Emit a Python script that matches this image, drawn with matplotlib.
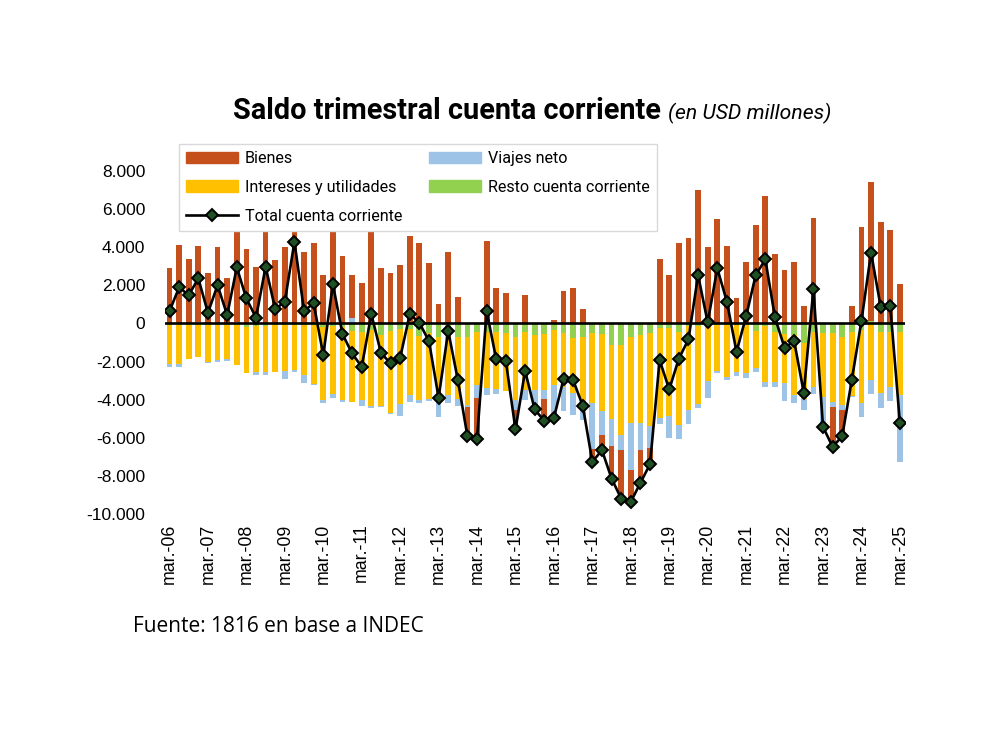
import numpy as np
import matplotlib
matplotlib.use("Agg")
import matplotlib.pyplot as plt
from matplotlib.ticker import FuncFormatter
from matplotlib.lines import Line2D
from matplotlib.patches import Patch

# ---------------- data (USD millones, trimestral, mar-06 .. mar-25) ----------------
months = ["mar.", "jun.", "sep.", "dic."]
years = list(range(6, 26))
quarters = [f"{m}-{y:02d}" for y in years for m in months][:77]

bienes = [2920, 4110, 3360, 3960, 2625, 3990, 2380, 5030, 3885, 2975, 5655, 3325,
          4025, 6860, 3760, 4235, 2540, 5950, 3535, 2280, 2100, 4935, 2890, 2625,
          3060, 4585, 4235, 3150, 1015, 3760, 1365, -1550, -2050, 4320, 1870, 1575,
          -1000, 1490, -60, -1150, 175, 1700, 1875, 750, -650, -790, -1700, -2540,
          -1700, -1715, -850, 3380, 2540, 4235, 4460, 7000, 3990, 5460, 4080, 1310,
          3240, 5160, 6685, 3640, 2800, 3240, 930, 5510, -200, -2065, -1365, 930,
          5075, 7290, 5300, 4900, 2065]
viajes = [-140, -140, -20, 100, -30, -100, -80, 100, -40, -120, -120, -30,
          -370, -120, -400, -30, -200, -200, -90, 260, -350, -100, -30, -30,
          -650, -350, -150, -120, -820, -400, -350, -100, -665, -350, -260, -50,
          -530, -490, -950, -440, -1850, -1300, -1190, -870, -2415, -1280, -1450, -790,
          -2415, -1400, -1140, -315, -1140, -735, -750, -230, -930, -140, -175, -230,
          -260, -175, -300, -275, -910, -440, -560, -385, -1400, -300, -260, -100,
          -770, -735, -790, -735, -3500]
intereses = [-2050, -2060, -1800, -1700, -1960, -1870, -1820, -2130, -2400, -2400, -2400, -2450,
             -2430, -2350, -2600, -3100, -3800, -3550, -3850, -3700, -3550, -3980, -3750, -4300,
             -3900, -3450, -3350, -3480, -3400, -3300, -3270, -3600, -2800, -2950, -3000, -3000,
             -3325, -3060, -2890, -2940, -2900, -2800, -2850, -3500, -3710, -4025, -3850, -4725,
             -4550, -4640, -4900, -4700, -4600, -4900, -4400, -4100, -2870, -2380, -2700, -2440,
             -2520, -1960, -2900, -2600, -2590, -3150, -2940, -2890, -3360, -3620, -3590, -3345,
             -3815, -2975, -3240, -2890, -3325]
resto = [-80, -80, -60, -50, -60, -60, -60, -60, -180, -160, -160, -90,
         -90, -100, -100, -100, -200, -150, -170, -420, -450, -370, -600, -400,
         -310, -300, -650, -480, -700, -450, -700, -700, -440, -430, -450, -520,
         -700, -450, -610, -560, -350, -520, -790, -700, -490, -560, -1140, -1140,
         -700, -610, -500, -260, -260, -440, -150, -130, -130, -100, -100, -100,
         -100, -400, -150, -450, -560, -610, -1050, -440, -490, -490, -700, -440,
         -350, 150, -430, -430, -430]
total = [650, 1890, 1490, 2360, 560, 2010, 440, 2940, 1310, 300, 2975, 750,
         1140, 4290, 665, 1050, -1660, 2065, -560, -1575, -2275, 490, -1540, -2100,
         -1800, 490, 35, -930, -3900, -390, -2955, -5915, -6040, 650, -1890, -1980,
         -5565, -2485, -4515, -5110, -4950, -2920, -2975, -4320, -7260, -6650, -8140, -9190,
         -9360, -8365, -7385, -1925, -3465, -1840, -840, 2540, 50, 2890, 1140, -1490,
         385, 2540, 3360, 315, -1280, -930, -3640, 1800, -5425, -6475, -5915, -2955,
         140, 3710, 875, 910, -5215]

c_bienes = "#C5501B"
c_viajes = "#9DC3E6"
c_inter = "#FFC000"
c_resto = "#92D050"
c_mark = "#1F4F22"

# ---------------- figure ----------------
fig = plt.figure(figsize=(9.92, 7.44), dpi=100)
ax = fig.add_axes([164.7 / 992, 1 - 514 / 744, 740 / 992, 343 / 744])

x = np.arange(len(quarters))
pos_base = np.zeros(len(x))
neg_base = np.zeros(len(x))
for vals, col in [(resto, c_resto), (intereses, c_inter), (viajes, c_viajes), (bienes, c_bienes)]:
    v = np.array(vals, dtype=float)
    bottom = np.where(v >= 0, pos_base, neg_base)
    ax.bar(x, v, bottom=bottom, width=0.6, color=col, zorder=2, linewidth=0)
    pos_base = pos_base + np.where(v >= 0, v, 0)
    neg_base = neg_base + np.where(v < 0, v, 0)

ax.axhline(0, color="black", lw=1.9, zorder=3)
ax.plot(x, total, color="black", lw=1.9, marker="D", markersize=5.8,
        markerfacecolor=c_mark, markeredgecolor="black", markeredgewidth=1.4, zorder=4)

ax.set_xlim(-0.5, len(x) - 0.5)
ax.set_ylim(-10000, 8000)
ax.set_yticks(np.arange(-10000, 8001, 2000))
ax.yaxis.set_major_formatter(FuncFormatter(lambda v, p: f"{int(v):,}".replace(",", ".")))
ax.set_xticks(x[::4])
ax.set_xticklabels([quarters[i] for i in x[::4]], rotation=90, fontsize=12.8,
                   family=["Liberation Sans", "DejaVu Sans"])
for lab in ax.get_yticklabels():
    lab.set_fontsize(12.5)
    lab.set_family(["Liberation Sans", "DejaVu Sans"])
ax.tick_params(axis="y", length=0, pad=14)
ax.tick_params(axis="x", length=0, pad=7)
for s in ax.spines.values():
    s.set_visible(False)

handles = [Patch(color=c_bienes), Patch(color=c_inter),
           Line2D([], [], color="black", lw=1.9, marker="D", markersize=5.8,
                  markerfacecolor=c_mark, markeredgecolor="black", markeredgewidth=1.4),
           Patch(color=c_viajes), Patch(color=c_resto)]
labels = ["Bienes", "Intereses y utilidades", "Total cuenta corriente",
          "Viajes neto", "Resto cuenta corriente"]
leg = ax.legend(handles, labels, ncol=2, loc="upper left", bbox_to_anchor=(0.019, 1.079),
                borderaxespad=0, frameon=True, fancybox=False, edgecolor="#D9D9D9",
                framealpha=1, prop={"family": ["Roboto", "DejaVu Sans"], "size": 11.6},
                handlelength=3.25, handleheight=0.75, handletextpad=0.4,
                columnspacing=1.65, labelspacing=0.85, borderpad=0.45)
leg.set_zorder(5)
leg.get_frame().set_linewidth(1.0)

fig.text(233 / 992, 1 - 111 / 744, "Saldo trimestral cuenta corriente",
         fontsize=20.8, fontweight="bold", ha="left", va="center",
         family=["Roboto", "DejaVu Sans"])
fig.text(668 / 992, 1 - 113 / 744, "(en USD millones)",
         fontsize=15.2, style="italic", ha="left", va="center",
         family=["Roboto", "DejaVu Sans"])
fig.text(133 / 992, 1 - 626 / 744, "Fuente: 1816 en base a INDEC",
         fontsize=15, ha="left", va="center", family=["Open Sans", "DejaVu Sans"])

fig.savefig("out.png", dpi=100, facecolor="white")
